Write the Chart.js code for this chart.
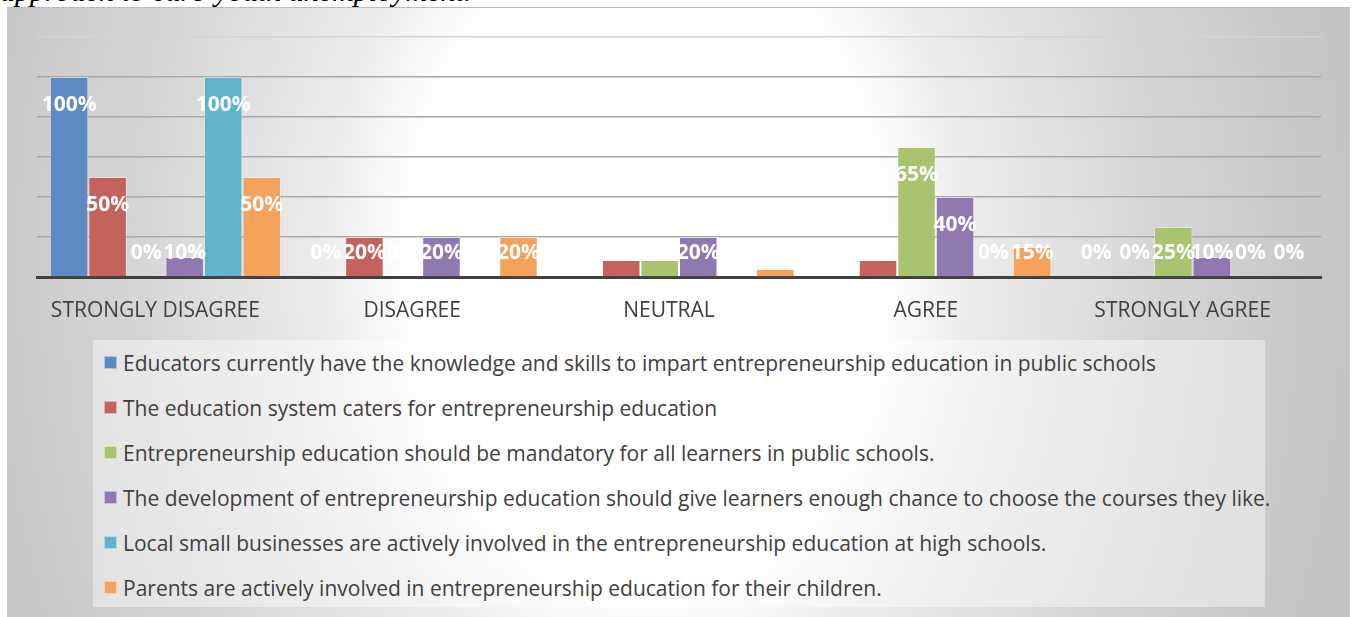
<!DOCTYPE html>
<html>
<head>
<meta charset="utf-8">
<script src="https://cdn.jsdelivr.net/npm/chart.js@4.4.1/dist/chart.umd.min.js"></script>
<style>
  body { margin: 0; width: 1354px; height: 617px; overflow: hidden; background: #fff; position: relative; font-family: "Open Sans", sans-serif; }
  .caption { position: absolute; left: 0; top: -24px; font: italic 30px/30px "Liberation Serif", serif; color: #000; white-space: nowrap; }
  .panel {
    position: absolute; left: 7px; top: 7px; width: 1343px; height: 620px;
    border-top: 1px solid #bdbdbd;
    background: radial-gradient(ellipse 720px 1000px at 640px 253px, #ffffff 0%, #ffffff 33%, #ececec 45%, #d6d6d6 70%, #c3c3c3 100%);
  }
  #wrap { position: absolute; left: 0; top: 0; width: 1354px; height: 330px; }
  #legend {
    position: absolute; left: 93px; top: 340px; width: 1172px; height: 267px;
    background: rgba(255, 255, 255, 0.42);
  }
  .item { height: 45px; display: flex; align-items: center; padding-left: 11px; font-size: 21px; color: #404040; white-space: nowrap; }
  .swatch { width: 11px; height: 11px; margin-right: 6px; border: 1px solid rgba(255,255,255,0.5); flex: none; }
</style>
</head>
<body>
<div class="caption">approach to curb youth unemployment.</div>
<div class="panel"></div>
<div id="wrap"><canvas id="chart"></canvas></div>
<div id="legend"></div>
<script>
/* Survey responses by statement, percent of respondents */

const categories = ["STRONGLY DISAGREE", "DISAGREE", "NEUTRAL", "AGREE", "STRONGLY AGREE"];

const seriesNames = [
  "Educators currently have the knowledge and skills to impart entrepreneurship education in public schools",
  "The education system caters for entrepreneurship education",
  "Entrepreneurship education should be mandatory for all learners in public schools.",
  "The development of entrepreneurship education should give learners enough chance to choose the courses they like.",
  "Local small businesses are actively involved in the entrepreneurship education at high schools.",
  "Parents are actively involved in entrepreneurship education for their children."
];

const educators = [100, 0, 0, 0, 0];
const educationSystem = [50, 20, 8.5, 8.5, 0];
const mandatory = [0, 0, 8.5, 65, 25];
const choice = [10, 20, 20, 40, 10];
const localBusiness = [100, 0, 0, 0, 0];
const parents = [50, 20, 4, 15, 0];

const colors = ["#5d8ac0", "#c4625e", "#a8c46e", "#8f79b0", "#60b3cb", "#f5a25d"];

const seriesValues = [educators, educationSystem, mandatory, choice, localBusiness, parents];

// labels sit just inside the top of the bar, but never lower than a fixed line
const barLabels = {
  id: "barLabels",
  afterDatasetsDraw(chart) {
    const { ctx } = chart;
    const floor = chart.scales.y.getPixelForValue(0) - 24;
    ctx.save();
    ctx.font = "bold 21px 'Open Sans'";
    ctx.fillStyle = "#ffffff";
    ctx.textAlign = "center";
    ctx.textBaseline = "middle";
    chart.data.datasets.forEach((ds, i) => {
      chart.getDatasetMeta(i).data.forEach((bar, j) => {
        const v = ds.data[j];
        if (v == null) return;
        ctx.fillText(Math.round(v) + "%", bar.x, Math.min(bar.y + 28, floor));
      });
    });
    ctx.restore();
  }
};

const chart = new Chart(document.getElementById("chart"), {
  type: "bar",
  data: {
    labels: categories,
    datasets: seriesValues.map((vals, i) => ({
      label: seriesNames[i],
      data: vals,
      backgroundColor: colors[i],
      borderColor: "rgba(255,255,255,0.35)",
      borderWidth: 1,
      categoryPercentage: 0.9,
      barPercentage: 1.0
    }))
  },
  options: {
    responsive: true,
    maintainAspectRatio: false,
    animation: false,
    layout: { padding: { left: 37, right: 33, top: 37, bottom: 0 } },
    plugins: {
      legend: { display: false },
      tooltip: { enabled: false }
    },
    scales: {
      x: {
        grid: { display: false },
        border: { display: true, color: "#404040", width: 3 },
        ticks: { color: "#404040", font: { family: "Open Sans", size: 21 }, padding: 13, labelOffset: -10, maxRotation: 0 },
        afterFit: (scale) => { scale.height = 53; }
      },
      y: {
        min: 0,
        max: 120,
        ticks: { display: false, stepSize: 20 },
        border: { display: false },
        grid: {
          drawTicks: false,
          lineWidth: 1.5,
          color: (c) => (c.tick.value === 0 ? "rgba(0,0,0,0)" : c.tick.value === 120 ? "#d4d4d4" : "#a8a8a8")
        }
      }
    }
  },
  plugins: [barLabels]
});

// legend list built from the chart's own datasets
const legendEl = document.getElementById("legend");
legendEl.innerHTML = chart.data.datasets
  .map(
    (ds) => `
    <div class="item"><span class="swatch" style="background:${ds.backgroundColor}"></span>${ds.label}</div>`
  )
  .join("");
</script>
</body>
</html>
